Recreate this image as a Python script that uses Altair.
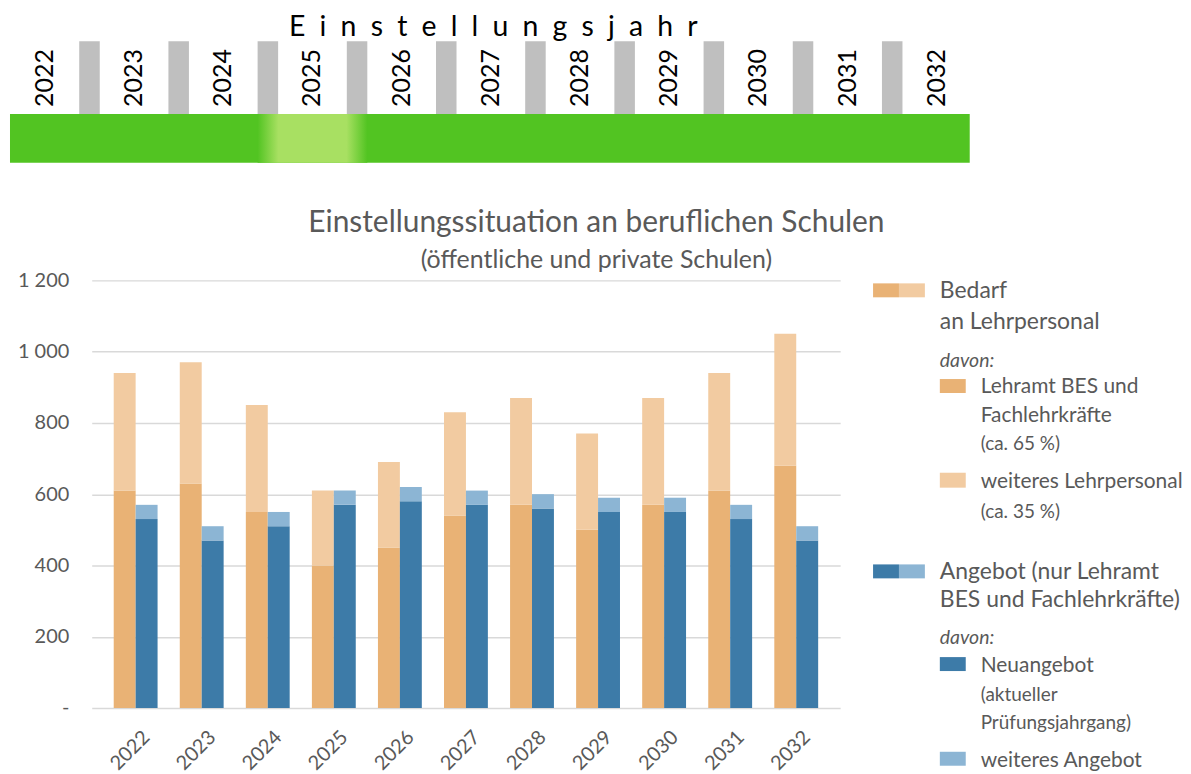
import altair as alt
import pandas as pd

# ---------------- data ----------------
years = [2022, 2023, 2024, 2025, 2026, 2027, 2028, 2029, 2030, 2031, 2032]
bedarf_lehramt = [610, 630, 550, 400, 450, 540, 570, 500, 570, 610, 680]
bedarf_gesamt = [940, 970, 850, 610, 690, 830, 870, 770, 870, 940, 1050]
angebot_neu = [530, 470, 510, 570, 580, 570, 560, 550, 550, 530, 470]
angebot_gesamt = [570, 510, 550, 610, 620, 610, 600, 590, 590, 570, 510]
highlight_year = 2025

y_ticks = [0, 200, 400, 600, 800, 1000, 1200]

banner_title = "Einstellungsjahr"
chart_title = "Einstellungssituation an beruflichen Schulen"
chart_subtitle = "(öffentliche und private Schulen)"

legend_bedarf = ["Bedarf", "an Lehrpersonal"]
legend_bedarf_1 = ["Lehramt BES und", "Fachlehrkräfte"]
legend_bedarf_1_note = "(ca. 65 %)"
legend_bedarf_2 = "weiteres Lehrpersonal"
legend_bedarf_2_note = "(ca. 35 %)"
legend_angebot = ["Angebot (nur Lehramt", "BES und Fachlehrkräfte)"]
legend_angebot_1 = "Neuangebot"
legend_angebot_1_note = ["(aktueller", "Prüfungsjahrgang)"]
legend_angebot_2 = "weiteres Angebot"
davon = "davon:"

C_OR_D = "#E9B275"
C_OR_L = "#F2CBA1"
C_BL_D = "#3D7BA8"
C_BL_L = "#8CB5D4"
GREEN = "#52C422"
GREEN_L = "#A8E062"
GREY_COL = "#BFBFBF"
TXT = "#595959"
FONT = "Lato"

# ---------------- bar table ----------------
rows = []
for i, yr in enumerate(years):
    rows.append(dict(year=yr, group="Bedarf", part="lehramt", lo=0, hi=bedarf_lehramt[i]))
    rows.append(dict(year=yr, group="Bedarf", part="weiteres_lp", lo=bedarf_lehramt[i], hi=bedarf_gesamt[i]))
    rows.append(dict(year=yr, group="Angebot", part="neu", lo=0, hi=angebot_neu[i]))
    rows.append(dict(year=yr, group="Angebot", part="weiteres_ang", lo=angebot_neu[i], hi=angebot_gesamt[i]))
bars_df = pd.DataFrame(rows)

banner_df = pd.DataFrame({"year": years, "idx": list(range(len(years)))})

# ---------------- banner ----------------
# the banner's origin is aligned with the main plot's origin; it starts 82px further left
BW, BH = 881, 122
bx = alt.Scale(domain=[0.525, 10.369], nice=False, zero=False)

green = alt.Chart(banner_df).transform_filter("datum.idx == 0").mark_rect(color=GREEN).encode(
    x=alt.value(-82), x2=alt.value(BW), y=alt.value(73), y2=alt.value(122)
)
hl = alt.Chart(banner_df).transform_filter(f"datum.year == {highlight_year}").transform_calculate(
    a="datum.idx - 0.5 - 0.115", b="datum.idx + 0.5 + 0.115"
).mark_rect(
    color=alt.Gradient(
        gradient="linear", x1=0, x2=1, y1=0, y2=0,
        stops=[alt.GradientStop(color=GREEN, offset=0), alt.GradientStop(color=GREEN_L, offset=0.19),
               alt.GradientStop(color=GREEN_L, offset=0.81), alt.GradientStop(color=GREEN, offset=1)],
    )
).encode(
    x=alt.X("a:Q", scale=bx, axis=None), x2="b:Q", y=alt.value(73), y2=alt.value(122)
)
cols = alt.Chart(banner_df).transform_filter(f"datum.idx < {len(years) - 1}").transform_calculate(
    a="datum.idx + 0.5 - 0.115", b="datum.idx + 0.5 + 0.115"
).mark_rect(color=GREY_COL).encode(
    x=alt.X("a:Q", scale=bx, axis=None), x2="b:Q", y=alt.value(0), y2=alt.value(73)
)
ytext = alt.Chart(banner_df).mark_text(
    angle=270, fontSize=25, font=FONT, color="black", align="center", baseline="middle"
).encode(
    x=alt.X("idx:Q", scale=bx, axis=None), y=alt.value(37), text="year:N"
)
banner = alt.layer(green, hl, cols, ytext).properties(
    width=BW, height=BH,
    title=alt.TitleParams(
        text="\u2002".join(list(banner_title)), fontSize=28.5, font=FONT, fontWeight="normal",
        color="black", anchor="middle", offset=0, dx=-37.5,
    ),
)

# ---------------- main chart ----------------
main = alt.Chart(bars_df).mark_bar().encode(
    x=alt.X(
        "year:O",
        scale=alt.Scale(paddingInner=0.336, paddingOuter=0.333),
        axis=alt.Axis(
            title=None, labelAngle=-45, labelAlign="right", labelBaseline="middle",
            labelFontSize=20, labelColor=TXT, labelFont=FONT, labelPadding=26, labelOffset=11,
            ticks=False, domain=False, grid=False,
        ),
    ),
    xOffset=alt.XOffset("group:N", sort=["Bedarf", "Angebot"]),
    y=alt.Y(
        "lo:Q",
        scale=alt.Scale(domain=[0, 1200], nice=False),
        axis=alt.Axis(
            title=None, values=y_ticks, ticks=False, domain=False, grid=True,
            gridColor="#D9D9D9", gridWidth=1.5, labelFontSize=20, labelColor=TXT, labelFont=FONT,
            labelPadding=23, minExtent=82, maxExtent=82,
            labelExpr="datum.value == 0 ? '-' : replace(format(datum.value, ','), ',', ' ')",
        ),
    ),
    y2="hi:Q",
    color=alt.Color(
        "part:N",
        scale=alt.Scale(domain=["lehramt", "weiteres_lp", "neu", "weiteres_ang"],
                        range=[C_OR_D, C_OR_L, C_BL_D, C_BL_L]),
        legend=None,
    ),
).properties(width=751, height=429)

# ---------------- custom legend ----------------
one = alt.Data(values=[{}])


def sw(x0, x1, y0, y1, c):
    return alt.Chart(one).mark_rect(color=c).encode(
        x=alt.value(x0), x2=alt.value(x1), y=alt.value(y0), y2=alt.value(y1)
    )


def tx(t, x, y, size, italic=False):
    return alt.Chart(one).mark_text(
        align="left", baseline="alphabetic", fontSize=size, font=FONT, color=TXT,
        fontStyle="italic" if italic else "normal",
    ).encode(x=alt.value(x), y=alt.value(y), text=alt.value(t))


BIG, MED, NOTE, DAV = 23, 21, 19, 19.5
leg_layers = [
    sw(23, 49, 3, 17, C_OR_D), sw(49, 75, 3, 17, C_OR_L),
    tx(legend_bedarf[0], 90, 18, BIG), tx(legend_bedarf[1], 90, 49, BIG),
    tx(davon, 90, 87, DAV, True),
    sw(90, 116, 99, 113, C_OR_D),
    tx(legend_bedarf_1[0], 131, 113, MED), tx(legend_bedarf_1[1], 131, 142, MED),
    tx(legend_bedarf_1_note, 131, 170, NOTE),
    sw(90, 116, 193, 208, C_OR_L),
    tx(legend_bedarf_2, 131, 208, MED), tx(legend_bedarf_2_note, 131, 238, NOTE),
    sw(23, 49, 285, 299, C_BL_D), sw(49, 75, 285, 299, C_BL_L),
    tx(legend_angebot[0], 90, 300, BIG), tx(legend_angebot[1], 90, 328, BIG),
    tx(davon, 90, 365, DAV, True),
    sw(90, 116, 378, 392, C_BL_D),
    tx(legend_angebot_1, 131, 393, MED),
    tx(legend_angebot_1_note[0], 131, 422, NOTE), tx(legend_angebot_1_note[1], 131, 450, NOTE),
    sw(90, 116, 473, 487, C_BL_L),
    tx(legend_angebot_2, 131, 488, MED),
]
legend = alt.layer(*leg_layers).properties(width=320, height=429)

body = alt.hconcat(main, legend, spacing=10).properties(
    title=alt.TitleParams(
        text=chart_title, subtitle=chart_subtitle, fontSize=30, subtitleFontSize=25,
        font=FONT, subtitleFont=FONT, fontWeight="normal", color=TXT, subtitleColor=TXT,
        anchor="middle", offset=-3, subtitlePadding=11,
    )
)

chart = alt.vconcat(banner, body, spacing=45).properties(
    padding={"left": 2, "top": 3, "right": 0, "bottom": 0}
).configure(font=FONT).configure_view(stroke=None)

chart.save("out.html", embed_options={"renderer": "svg", "actions": False})
